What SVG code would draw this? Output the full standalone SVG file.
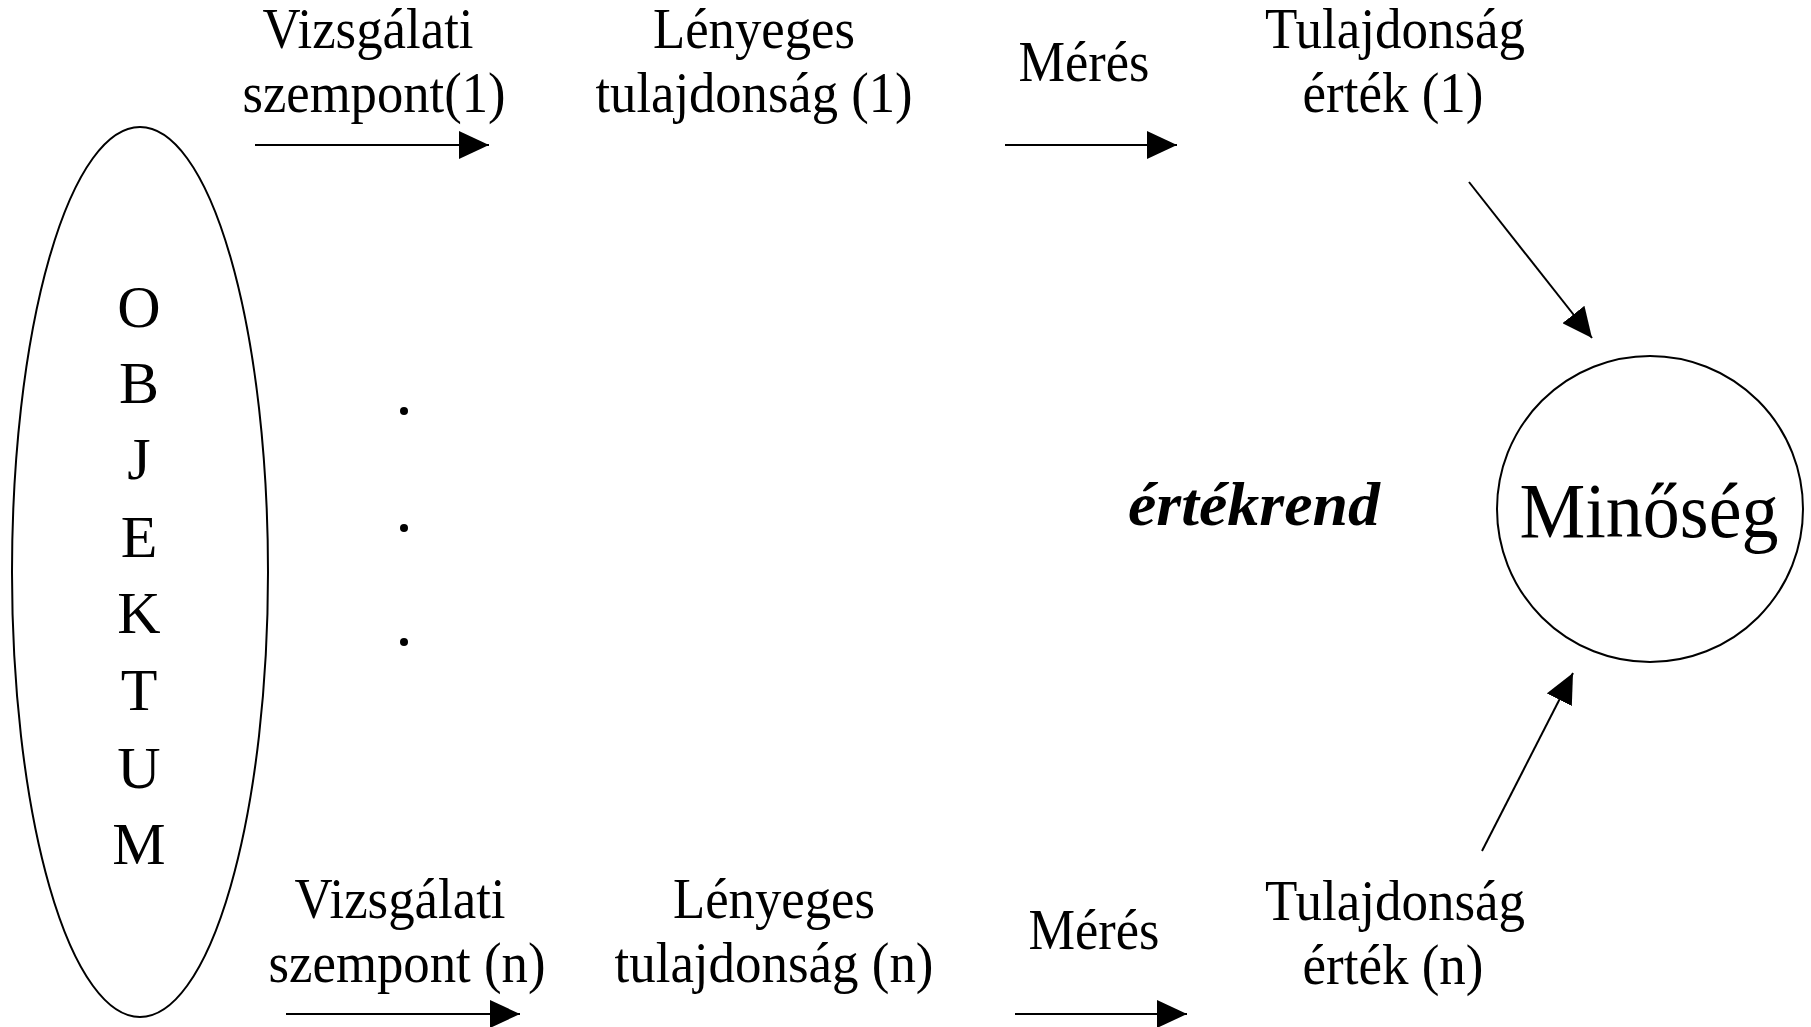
<svg xmlns="http://www.w3.org/2000/svg" width="1811" height="1027" viewBox="0 0 1811 1027">
<style>
text{font-family:"Liberation Serif","Times New Roman",serif;fill:#000;text-anchor:middle}
.t{font-size:56px}
.obj{font-size:60px}
.big{font-size:78px}
.it{font-size:62px;font-weight:bold;font-style:italic}
.ln{stroke:#000;stroke-width:2;fill:none}
.sh{stroke:#000;stroke-width:2;fill:none}
</style>
<defs>
<marker id="ah" markerWidth="30" markerHeight="28" refX="30" refY="14" orient="auto" markerUnits="userSpaceOnUse">
<path d="M0,0 L30,14 L0,28 Z" fill="#000"/>
</marker>
</defs>
<rect width="1811" height="1027" fill="#fff"/>
<g id="objektum">
<ellipse class="sh" cx="140" cy="572" rx="128" ry="445"/>
<text class="obj" x="139" y="327">O</text>
<text class="obj" x="139" y="403">B</text>
<text class="obj" x="139" y="479">J</text>
<text class="obj" x="139" y="557">E</text>
<text class="obj" x="139" y="633">K</text>
<text class="obj" x="139" y="710">T</text>
<text class="obj" x="139" y="788">U</text>
<text class="obj" x="139" y="864">M</text>
</g>
<g id="szempont1">
<text class="t" x="368" y="48" textLength="211" lengthAdjust="spacingAndGlyphs">Vizsgálati</text>
<text class="t" x="374" y="112" textLength="263" lengthAdjust="spacingAndGlyphs">szempont(1)</text>
</g>
<g id="lenyeges1">
<text class="t" x="754" y="48" textLength="202" lengthAdjust="spacingAndGlyphs">Lényeges</text>
<text class="t" x="754" y="112" textLength="317" lengthAdjust="spacingAndGlyphs">tulajdonság (1)</text>
</g>
<g id="meres1">
<text class="t" x="1084" y="81" textLength="131" lengthAdjust="spacingAndGlyphs">Mérés</text>
</g>
<g id="ertek1">
<text class="t" x="1395" y="48" textLength="260" lengthAdjust="spacingAndGlyphs">Tulajdonság</text>
<text class="t" x="1393" y="112" textLength="181" lengthAdjust="spacingAndGlyphs">érték (1)</text>
</g>
<g id="dots">
<circle cx="404" cy="411" r="4" fill="#000"/>
<circle cx="404" cy="528" r="4" fill="#000"/>
<circle cx="404" cy="642" r="4" fill="#000"/>
</g>
<g id="ertekrend">
<text class="it" x="1254" y="525" textLength="252" lengthAdjust="spacingAndGlyphs">értékrend</text>
</g>
<g id="minoseg">
<ellipse class="sh" cx="1650" cy="509" rx="153" ry="153"/>
<text class="big" x="1649" y="537" textLength="259" lengthAdjust="spacingAndGlyphs">Minőség</text>
</g>
<g id="szempontn">
<text class="t" x="400" y="918" textLength="211" lengthAdjust="spacingAndGlyphs">Vizsgálati</text>
<text class="t" x="407" y="982" textLength="277" lengthAdjust="spacingAndGlyphs">szempont (n)</text>
</g>
<g id="lenyegesn">
<text class="t" x="774" y="918" textLength="202" lengthAdjust="spacingAndGlyphs">Lényeges</text>
<text class="t" x="774" y="982" textLength="319" lengthAdjust="spacingAndGlyphs">tulajdonság (n)</text>
</g>
<g id="meresn">
<text class="t" x="1094" y="949" textLength="131" lengthAdjust="spacingAndGlyphs">Mérés</text>
</g>
<g id="ertekn">
<text class="t" x="1395" y="920" textLength="260" lengthAdjust="spacingAndGlyphs">Tulajdonság</text>
<text class="t" x="1393" y="984" textLength="181" lengthAdjust="spacingAndGlyphs">érték (n)</text>
</g>
<g id="connectors">
<line class="ln" x1="255" y1="145" x2="489" y2="145" marker-end="url(#ah)"/>
<line class="ln" x1="1005" y1="145" x2="1177" y2="145" marker-end="url(#ah)"/>
<line class="ln" x1="1469" y1="182" x2="1592" y2="338" marker-end="url(#ah)"/>
<line class="ln" x1="286" y1="1014" x2="520" y2="1014" marker-end="url(#ah)"/>
<line class="ln" x1="1015" y1="1014" x2="1187" y2="1014" marker-end="url(#ah)"/>
<line class="ln" x1="1482" y1="851" x2="1573" y2="673" marker-end="url(#ah)"/>
</g>
</svg>
